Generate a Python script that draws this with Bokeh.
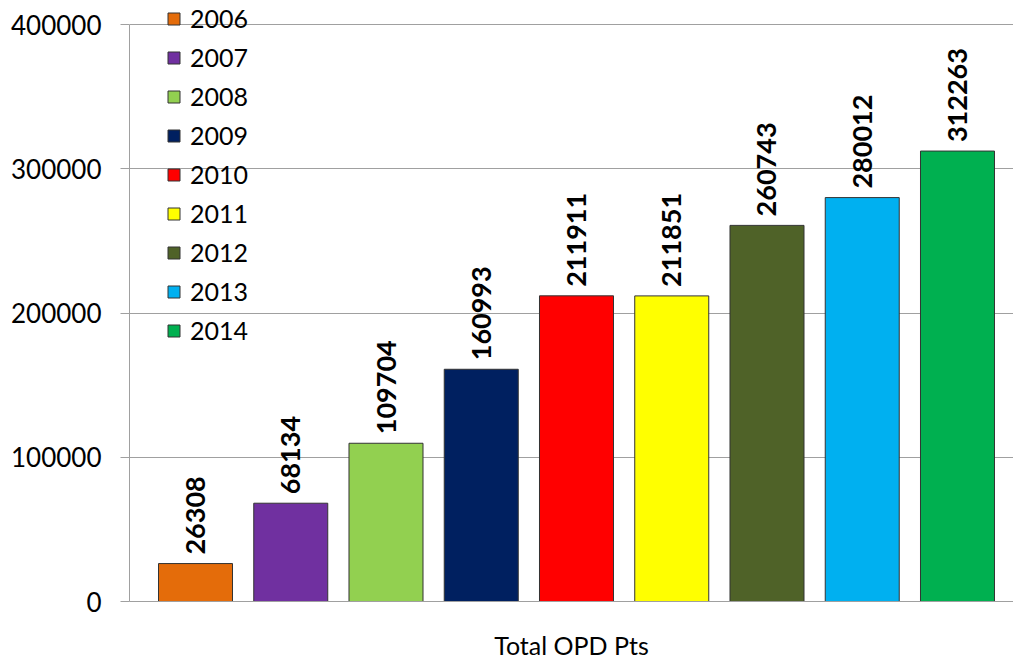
import math
from bokeh.plotting import figure
from bokeh.models import ColumnDataSource, Range1d, FixedTicker, NumeralTickFormatter, Legend, LegendItem
from bokeh.core.properties import value
from bokeh.embed import file_html
from bokeh.resources import INLINE

years = ["2006", "2007", "2008", "2009", "2010", "2011", "2012", "2013", "2014"]
opd_pts = [26308, 68134, 109704, 160993, 211911, 211851, 260743, 280012, 312263]
colors = ["#E46C0A", "#7030A0", "#92D050", "#002060", "#FF0000",
          "#FFFF00", "#4F6228", "#00B0F0", "#00B050"]
y_ticks = [0, 100000, 200000, 300000, 400000]
category_label = "Total OPD Pts"

FONT = "Lato"

src = ColumnDataSource(dict(
    x=list(range(len(years))),
    y=opd_pts,
    year=years,
    color=colors,
    label=[str(v) for v in opd_pts],
))

# frame spans the full top so that the legend (which sits above the 400000 line) is not clipped
p = figure(width=1013, height=662, output_backend="svg", toolbar_location=None,
           x_range=Range1d(-0.693, 8.588), y_range=Range1d(0, 400000 * 601 / 577),
           min_border_left=129, min_border_top=0, min_border_bottom=61, min_border_right=0)
p.outline_line_color = None
p.background_fill_color = "white"
p.border_fill_color = "white"

renderers = []
for i in range(len(years)):
    r = p.vbar(x=[i], top=[opd_pts[i]], bottom=0, width=0.777,
               fill_color=colors[i], line_color="#333333", line_width=1)
    renderers.append(r)

p.text(x="x", y="y", text="label", source=src, angle=math.pi / 2,
       text_align="left", text_baseline="middle", y_offset=-9,
       text_font=value(FONT), text_font_style="bold", text_font_size="27px",
       text_color="black")

# grid
p.xgrid.visible = False
p.ygrid.ticker = FixedTicker(ticks=y_ticks)
p.ygrid.grid_line_color = "#a0a0a0"
p.ygrid.grid_line_width = 1

# y axis
ya = p.yaxis[0]
ya.ticker = FixedTicker(ticks=y_ticks)
ya.bounds = (0, 400000)
ya.formatter = NumeralTickFormatter(format="0")
ya.axis_line_color = "#a0a0a0"
ya.major_tick_line_color = "#a0a0a0"
ya.major_tick_in = 0
ya.major_tick_out = 9
ya.minor_tick_line_color = None
ya.major_label_standoff = 19
ya.major_label_text_font = FONT
ya.major_label_text_font_size = "26px"
ya.major_label_text_color = "black"

# x axis
xa = p.xaxis[0]
xa.ticker = FixedTicker(ticks=[])
xa.axis_line_color = "#a0a0a0"
xa.major_tick_line_color = None
xa.minor_tick_line_color = None
xa.axis_label = category_label
xa.axis_label_text_font = FONT
xa.axis_label_text_font_size = "25px"
xa.axis_label_text_font_style = "normal"
xa.axis_label_text_color = "black"
xa.axis_label_standoff = 28

legend = Legend(items=[LegendItem(label=years[i], renderers=[renderers[i]]) for i in range(len(years))],
                location=(37, 256), orientation="vertical",
                glyph_width=15, glyph_height=15, label_height=30, spacing=9,
                label_standoff=9, padding=0, margin=0,
                label_text_font=FONT, label_text_font_size="25px",
                label_text_color="black",
                background_fill_alpha=0, border_line_color=None)
p.add_layout(legend, "center")

open("out.html", "w").write(file_html(p, INLINE))
